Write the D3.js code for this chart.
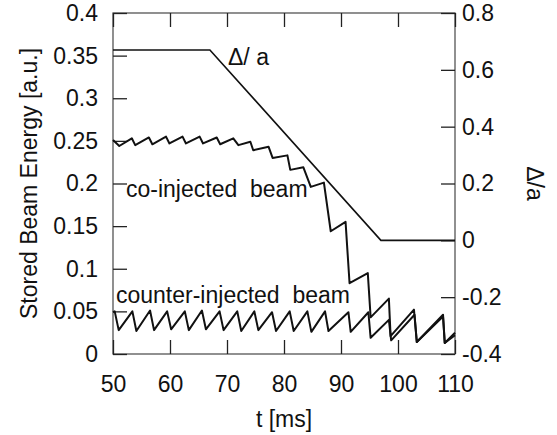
<!DOCTYPE html>
<html>
<head>
<meta charset="utf-8">
<script src="https://cdn.jsdelivr.net/npm/d3@7"></script>
<style>
  html, body { margin: 0; padding: 0; background: #fff; }
  svg { display: block; font-family: "Liberation Sans", Arial, Helvetica, sans-serif; }
</style>
</head>
<body>
<svg id="chart" width="557" height="435"></svg>
<script>
// ---- data ----
const xTicks = [50, 60, 70, 80, 90, 100, 110];
const yLeftTicks = [0, 0.05, 0.1, 0.15, 0.2, 0.25, 0.3, 0.35, 0.4];
const yRightTicks = [-0.4, -0.2, 0, 0.2, 0.4, 0.6, 0.8];

// co-injected beam stored energy (t [ms], E [a.u.])
const coT = [50, 51.1, 53.3, 53.9, 56.3, 56.9, 59.3, 59.9, 62.2, 62.8, 65.2, 65.8, 68.2, 68.8,
             71.1, 72.0, 74.1, 74.6, 77.3, 78.0, 80.6, 81.1, 83.4, 84.7, 87.0, 88.2, 90.8, 91.5,
             94.7, 95.2, 98.4, 98.7, 102.8, 103.3, 107.9, 108.2, 110];
const coE = [0.251, 0.244, 0.253, 0.245, 0.254, 0.246, 0.255, 0.247, 0.255, 0.247, 0.255, 0.247, 0.254, 0.246,
             0.253, 0.245, 0.249, 0.239, 0.243, 0.230, 0.233, 0.216, 0.219, 0.196, 0.201, 0.144, 0.155, 0.083,
             0.095, 0.043, 0.065, 0.021, 0.052, 0.014, 0.046, 0.013, 0.025];

// counter-injected beam stored energy
const ctrT = [50, 50.3, 51.0, 53.4, 54.1, 56.5, 57.2, 59.5, 60.2, 62.6, 63.3, 65.6, 66.3, 68.7, 69.4,
              71.8, 72.5, 74.8, 75.5, 77.9, 78.6, 81.0, 81.7, 84.1, 84.8, 87.2, 87.8, 91.3, 91.7,
              94.8, 95.2, 98.4, 98.8, 102.9, 103.3, 107.9, 108.2, 110];
const ctrE = [0.049, 0.050, 0.028, 0.050, 0.027, 0.051, 0.028, 0.050, 0.029, 0.050, 0.028, 0.051, 0.029, 0.050, 0.028,
              0.050, 0.027, 0.050, 0.028, 0.049, 0.027, 0.050, 0.027, 0.050, 0.026, 0.050, 0.027, 0.049, 0.026,
              0.049, 0.019, 0.040, 0.016, 0.046, 0.014, 0.044, 0.013, 0.022];

// Delta / a (right axis)
const daT = [50, 67, 97, 110];
const daV = [0.67, 0.67, 0, 0];

// ---- layout ----
const svg = d3.select("#chart");
const L = 113, R = 455, T = 13, B = 354;
const FS = 23;

const x = d3.scaleLinear().domain([50, 110]).range([L, R]);
const yL = d3.scaleLinear().domain([0, 0.4]).range([B, T]);
const yR = d3.scaleLinear().domain([-0.4, 0.8]).range([B, T]);

// frame
svg.append("rect").attr("x", L).attr("y", T).attr("width", R - L).attr("height", B - T)
  .attr("fill", "none").attr("stroke", "#555").attr("stroke-width", 1.3);

// axes with inward ticks
const tickLen = 14;
const fmt = d => String(+d.toFixed(2)).replace("\u2212", "-");

const gB = svg.append("g").attr("transform", `translate(0,${B})`)
  .call(d3.axisBottom(x).tickValues(xTicks).tickSizeInner(-tickLen).tickSizeOuter(0).tickPadding(22).tickFormat(fmt));
const gT = svg.append("g").attr("transform", `translate(0,${T})`)
  .call(d3.axisTop(x).tickValues(xTicks).tickSizeInner(-tickLen).tickSizeOuter(0).tickFormat(""));
const gL = svg.append("g").attr("transform", `translate(${L},0)`)
  .call(d3.axisLeft(yL).tickValues(yLeftTicks).tickSizeInner(-tickLen).tickSizeOuter(0).tickPadding(15).tickFormat(fmt));
const gR = svg.append("g").attr("transform", `translate(${R},0)`)
  .call(d3.axisRight(yR).tickValues(yRightTicks).tickSizeInner(-tickLen).tickSizeOuter(0).tickPadding(7).tickFormat(fmt));

[gB, gT, gL, gR].forEach(g => {
  g.select(".domain").remove();
  g.selectAll(".tick line").attr("stroke", "#222").attr("stroke-width", 1.3);
  g.selectAll(".tick text").attr("fill", "#111").style("font-size", FS + "px")
    .style("font-family", '"Liberation Sans", Arial, sans-serif');
});

// curves
const lineL = d3.line().x(d => x(d[0])).y(d => yL(d[1]));
const lineR = d3.line().x(d => x(d[0])).y(d => yR(d[1]));

svg.append("path").datum(daT.map((t, i) => [t, daV[i]])).attr("d", lineR)
  .attr("fill", "none").attr("stroke", "#111").attr("stroke-width", 1.6);
svg.append("path").datum(ctrT.map((t, i) => [t, ctrE[i]])).attr("d", lineL)
  .attr("fill", "none").attr("stroke", "#111").attr("stroke-width", 2).attr("stroke-linejoin", "round");
svg.append("path").datum(coT.map((t, i) => [t, coE[i]])).attr("d", lineL)
  .attr("fill", "none").attr("stroke", "#111").attr("stroke-width", 2).attr("stroke-linejoin", "round");

// labels in plot
const txt = (s, px, py) => svg.append("text").attr("x", px).attr("y", py)
  .attr("fill", "#111").style("font-size", FS + "px").style("white-space", "pre").text(s);
txt("Δ/ a", 228, 65);
txt("co-injected  beam", 126, 197);
txt("counter-injected  beam", 116, 303);

// axis titles
svg.append("text").attr("transform", `translate(37,${(T + B) / 2}) rotate(-90)`)
  .attr("text-anchor", "middle").attr("fill", "#111").style("font-size", FS + "px")
  .text("Stored Beam Energy [a.u.]");
svg.append("text").attr("transform", `translate(527,${(T + B) / 2}) rotate(90)`)
  .attr("text-anchor", "middle").attr("fill", "#111").style("font-size", FS + "px")
  .text("Δ/a");
svg.append("text").attr("x", (L + R) / 2).attr("y", 427).attr("text-anchor", "middle")
  .attr("fill", "#111").style("font-size", FS + "px").text("t [ms]");
</script>
</body>
</html>
